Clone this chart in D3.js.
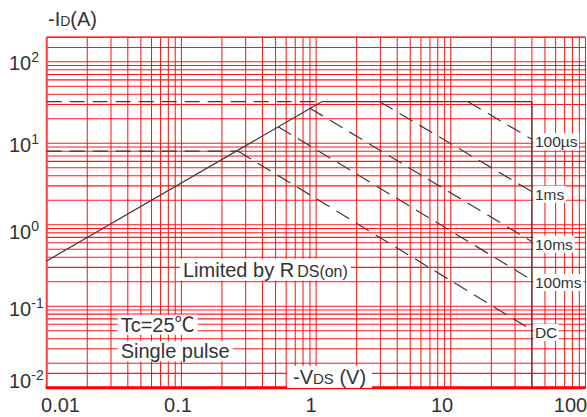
<!DOCTYPE html>
<html>
<head>
<meta charset="utf-8">
<script src="https://cdn.jsdelivr.net/npm/d3@7"></script>
<style>
body { margin: 0; background: #fff; }
svg text { font-family: Arial, "Liberation Sans", "Noto Sans CJK SC", sans-serif; fill: #333; }
</style>
</head>
<body>
<div id="chart"></div>
<script>
// axis values
var xTicks = [0.01, 0.1, 1, 10, 100];
var xTickLabels = ["0.01", "0.1", "1", "10", "100"];
var yTicks = [0.01, 0.1, 1, 10, 100];
var yTickExps = ["-2", "-1", "0", "1", "2"];
var yGridExtra = [0.015, 150];

// limit lines, points are [-VDS (V), -ID (A)]
var rdsLine = [[0.01, 0.36], [1.1, 32.4]];
var idLimit = [[1.1, 32.4], [40, 32.4]];
var vdsLimit = [[40, 32.4], [40, 0.01]];
var idPulseExt = [[0.01, 32.4], [1.1, 32.4]];
var idDcExt = [[0.01, 8], [0.264, 8]];

// pulse width lines
var pulseNames = ["100µs", "1ms", "10ms", "100ms", "DC"];
var pulseLines = [
    [[13.4, 32.4], [40, 11.2]],
    [[2.97, 32.4], [40, 2.55]],
    [[0.9, 27], [40, 0.62]],
    [[0.523, 16], [40, 0.21]],
    [[0.264, 8], [40, 0.051]]
];

var width = 587, height = 417;
var lineColor = "#3a3a3a";

var x = d3.scaleLog().domain([0.01, 100]).range([46.7, 585.5]);
var y = d3.scaleLog().domain([0.01, 200]).range([387.7, 37.3]);
// the tick labels of the original sit a bit off the grid
var xLab = d3.scaleLog().domain(xTicks).range([60, 177.5, 310.5, 441.5, 570]);
var yLab = d3.scaleLog().domain(yTicks).range([380.7, 308.5, 231.5, 144.5, 63]);

var svg = d3.select("#chart").append("svg")
    .attr("width", width)
    .attr("height", height);
svg.append("rect").attr("width", width).attr("height", height).attr("fill", "#fff");

// grid
var gridG = svg.append("g").attr("stroke", "#ff0000").attr("stroke-width", 1.05).attr("stroke-opacity", 0.9);
gridG.selectAll(".vgrid")
    .data(x.ticks())
    .enter().append("line")
    .attr("class", "vgrid")
    .attr("x1", function(d) { return x(d); })
    .attr("x2", function(d) { return x(d); })
    .attr("y1", y.range()[1])
    .attr("y2", y.range()[0]);
gridG.selectAll(".hgrid")
    .data(y.ticks().concat(yGridExtra))
    .enter().append("line")
    .attr("class", "hgrid")
    .attr("x1", x.range()[0])
    .attr("x2", x.range()[1])
    .attr("y1", function(d) { return y(d); })
    .attr("y2", function(d) { return y(d); });

// frame
svg.append("line")
    .attr("x1", x.range()[0]).attr("x2", x.range()[0])
    .attr("y1", y.range()[1]).attr("y2", y.range()[0])
    .attr("stroke", "#ff4040").attr("stroke-width", 2);
svg.append("line")
    .attr("x1", x.range()[0]).attr("x2", x.range()[1])
    .attr("y1", y.range()[1]).attr("y2", y.range()[1])
    .attr("stroke", "#ff2020").attr("stroke-width", 1.5);
svg.append("line")
    .attr("x1", x.range()[0] - 1).attr("x2", x.range()[1])
    .attr("y1", y.range()[0]).attr("y2", y.range()[0])
    .attr("stroke", "#ff0000").attr("stroke-width", 3);

var line = d3.line()
    .x(function(d) { return x(d[0]); })
    .y(function(d) { return y(d[1]); });

var limitG = svg.append("g").attr("fill", "none").attr("stroke", lineColor).attr("stroke-width", 1.2);
[rdsLine, idLimit, vdsLimit].forEach(function(p) {
    limitG.append("path").attr("d", line(p));
});
[idPulseExt, idDcExt].forEach(function(p) {
    limitG.append("path").attr("d", line(p)).attr("stroke-dasharray", "15,8");
});
limitG.selectAll(".pulse")
    .data(pulseLines)
    .enter().append("path")
    .attr("class", "pulse")
    .attr("d", function(d) { return line(d); })
    .attr("stroke-dasharray", "15,8");

// white box behind a text
function boxText(t, padX, padY) {
    var b = t.node().getBBox();
    d3.select(t.node().parentNode).insert("rect", function() { return t.node(); })
        .attr("x", b.x - padX).attr("y", b.y - padY)
        .attr("width", b.width + 2 * padX).attr("height", b.height + 2 * padY)
        .attr("fill", "#fff");
}

// pulse labels
var labG = svg.append("g");
pulseLines.forEach(function(p, i) {
    var end = p[p.length - 1];
    var g = labG.append("g");
    var t = g.append("text")
        .attr("x", x(end[0]) + 3)
        .attr("y", y(end[1]) + 8)
        .attr("font-size", "15.5px")
        .text(pulseNames[i]);
    boxText(t, 1.5, 0);
});

// annotations
function note(xp, yp, parts) {
    var g = svg.append("g");
    var t = g.append("text").attr("x", xp).attr("y", yp).attr("font-size", "20px");
    parts.forEach(function(p) {
        var s = t.append("tspan").text(p[0]);
        if (p[1]) s.attr("font-size", p[1]);
        if (p[2]) s.attr("dx", p[2]);
    });
    return t;
}
boxText(note(183, 276.7, [["Limited by R"], ["DS(on)", "16px", 3]]), 3, 0);
boxText(note(120.7, 331.7, [["Tc=25℃"]]), 3, -1);
boxText(note(120.7, 358.3, [["Single pulse"]]), 3, -1);
boxText(note(293, 384, [["-V"], ["DS", "15px"], [" (V)"]]), 6, 0);
note(48, 26, [["-I"], ["D", "14px"], ["(A)"]]);

// x tick labels
var xAxis = d3.axisBottom(xLab)
    .tickValues(xTicks)
    .tickFormat(function(d, i) { return xTickLabels[i]; })
    .tickSize(0);
var xAxisG = svg.append("g").attr("transform", "translate(0,411.5)").call(xAxis);
xAxisG.select(".domain").remove();
xAxisG.selectAll("text")
    .attr("y", 0).attr("dy", 0)
    .attr("font-size", "20px")
    .attr("fill", "#333");
xAxisG.attr("font-family", null).attr("font-size", null);

// y tick labels, 10 with exponent
var yLabG = svg.append("g");
var yt = yLabG.selectAll("text")
    .data(yTicks)
    .enter().append("text")
    .attr("x", 9)
    .attr("y", function(d) { return yLab(d) + 7; })
    .attr("font-size", "20px");
yt.append("tspan").text("10");
yt.append("tspan")
    .attr("font-size", "14px")
    .attr("dy", -8)
    .text(function(d, i) { return yTickExps[i]; });
</script>
</body>
</html>
